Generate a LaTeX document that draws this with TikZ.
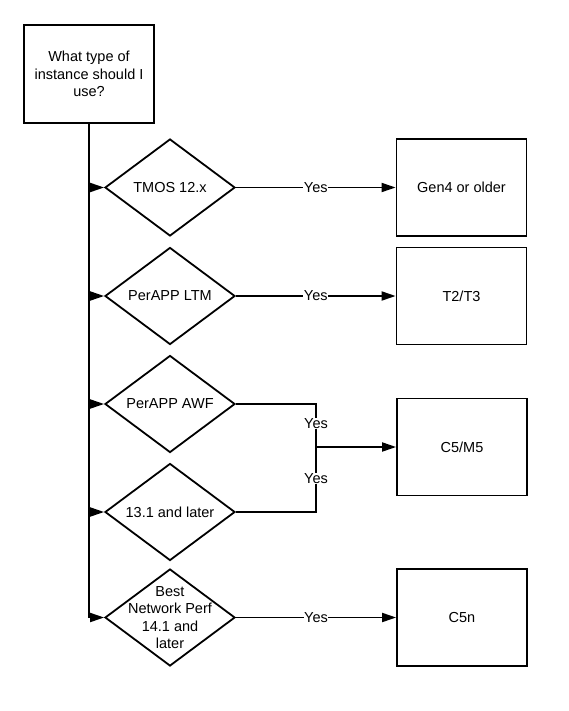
\documentclass[tikz,border=0pt]{standalone}
\usepackage{fontspec}
\setmainfont{Liberation Sans}
\usetikzlibrary{shapes.geometric,arrows.meta}
\begin{document}
\begin{tikzpicture}[x=1pt,y=-1pt,
  line width=1.8pt,
  every node/.style={font=\fontsize{14.5}{17.4}\selectfont},
  box/.style={draw,rectangle,minimum width=130pt,minimum height=97pt,inner sep=0pt,align=center,line width=1.8pt},
  dia/.style={draw,diamond,minimum width=130pt,minimum height=97pt,inner sep=0pt,line width=1.8pt},
  tip/.style={-{Triangle[length=14pt,width=9pt]}},
  yes/.style={fill=white,inner sep=0.5pt}]
\useasboundingbox (0,0) rectangle (569,711);
\node[box,minimum height=98pt] (start) at (89,74) {What type of\\instance should I\\use?};
\node[dia] (d1) at (170,187.5) {};
\node at (d1) {TMOS 12.x};
\node[dia] (d2) at (170,296) {};
\node at (d2) {PerAPP LTM};
\node[dia] (d3) at (170,404) {};
\node at (d3) {PerAPP AWF};
\node[dia] (d4) at (170,512) {};
\node at (d4) {13.1 and later};
\node[dia] (d5) at (170,617.5) {};
\node[align=center] at (d5) {Best\\Network Perf\\14.1 and\\later};
\node[box] (b1) at (461.5,187.5) {Gen4 or older};
\node[box] (b2) at (461.5,296) {T2/T3};
\node[box] (b3) at (462,447) {C5/M5};
\node[box] (b4) at (462,617.5) {C5n};
\coordinate (t1) at (start.south |- d1.west);
\coordinate (t2) at (start.south |- d2.west);
\coordinate (t3) at (start.south |- d3.west);
\coordinate (t4) at (start.south |- d4.west);
\coordinate (t5) at (start.south |- d5.west);
\coordinate (m) at (316,447);
\coordinate (m3) at (m |- d3.east);
\coordinate (m4) at (m |- d4.east);
\draw (start.south) -- (t5);
\foreach \i in {1,...,5} \draw[tip] (t\i) -- (d\i.west);
\draw[tip] (d1.east) -- node[yes]{Yes} (b1.west);
\draw[tip] (d2.east) -- node[yes]{Yes} (b2.west);
\draw[tip] (d5.east) -- node[yes]{Yes} (b4.west);
\draw (d3.east) -- (m3) -- node[yes,pos=0.45]{Yes} (m);
\draw (d4.east) -- (m4) -- node[yes,pos=0.52]{Yes} (m);
\draw[tip] (m) -- (b3.west);
\end{tikzpicture}
\end{document}
